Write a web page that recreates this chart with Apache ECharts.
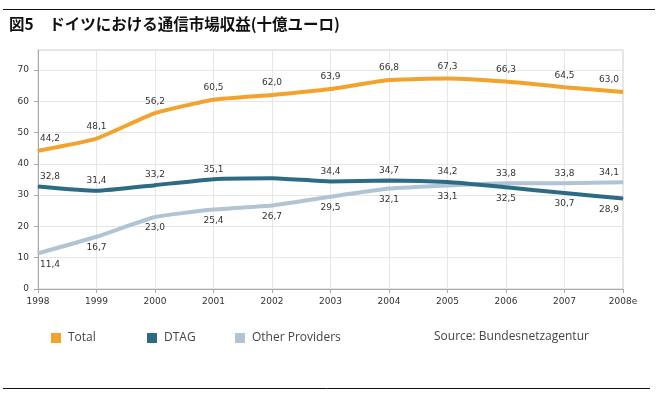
<!DOCTYPE html>
<html>
<head>
<meta charset="utf-8">
<script src="https://cdn.jsdelivr.net/npm/echarts@6/dist/echarts.min.js"></script>
<style>
  html, body { margin: 0; padding: 0; background: #fff; }
  #chart { width: 661px; height: 396px; }
</style>
</head>
<body>
<div id="chart"></div>
<script>
  // data
  var years = ['1998', '1999', '2000', '2001', '2002', '2003', '2004', '2005', '2006', '2007', '2008e']
  var total = [44.2, 48.1, 56.2, 60.5, 62.0, 63.9, 66.8, 67.3, 66.3, 64.5, 63.0]
  var dtag = [32.8, 31.4, 33.2, 35.1, 35.4, 34.4, 34.7, 34.2, 32.5, 30.7, 28.9]
  var others = [11.4, 16.7, 23.0, 25.4, 26.7, 29.5, 32.1, 33.1, 33.8, 33.8, 34.1]
  var yTicks = [0, 10, 20, 30, 40, 50, 60, 70]

  var fmt = function (v) { return v.toFixed(1).replace('.', ',') }
  var labelFont = { fontFamily: 'DejaVu Sans', fontSize: 9, color: '#333' }

  // label side per point: DTAG/others swap once the lines cross
  var dtagPos = ['top', 'top', 'top', 'top', null, 'top', 'top', 'top', 'bottom', 'bottom', 'bottom']
  var otherPos = ['bottom', 'bottom', 'bottom', 'bottom', 'bottom', 'bottom', 'bottom', 'bottom', 'top', 'top', 'top']

  function points(values, sides, dist) {
    return values.map(function (v, i) {
      var side = sides[i]
      var item = { value: v }
      if (!side) {
        item.label = { show: false }
        return item
      }
      var dx = i === 0 ? 12 : (i === values.length - 1 ? -14 : 0)
      item.label = { show: true, position: side, distance: dist[side], offset: [dx, 0] }
      return item
    })
  }

  function lineSeries(name, color, data) {
    return {
      name: name,
      type: 'line',
      smooth: 0.15,
      symbol: 'circle',
      symbolSize: 1,
      showSymbol: true,
      color: color,
      itemStyle: { color: color },
      lineStyle: { width: 4, color: color },
      label: Object.assign({ formatter: function (p) { return fmt(p.value) } }, labelFont),
      data: data
    }
  }

  var chart = echarts.init(document.getElementById('chart'))

  var legendBase = {
    top: 327,
    icon: 'rect',
    itemWidth: 10,
    itemHeight: 10,
    itemGap: 0,
    textStyle: { fontFamily: 'Open Sans', fontSize: 12, color: '#444', padding: [0, 0, 0, 2] }
  }

  chart.setOption({
    animation: false,
    title: {
      text: '図5　ドイツにおける通信市場収益(十億ユーロ)',
      left: 4,
      top: 11,
      textStyle: { fontFamily: 'Noto Sans CJK JP', fontSize: 15.5, fontWeight: 'bold', color: '#111' }
    },
    legend: [
      Object.assign({}, legendBase, { left: 46, data: ['Total'] }),
      Object.assign({}, legendBase, { left: 142, data: ['DTAG'] }),
      Object.assign({}, legendBase, { left: 230, data: ['Other Providers'] })
    ],
    grid: {
      left: 38,
      right: 38,
      top: 50,
      bottom: 107,
      show: true,
      borderColor: '#cfcfcf',
      borderWidth: 1
    },
    xAxis: {
      type: 'category',
      data: years,
      boundaryGap: false,
      axisLine: { lineStyle: { color: '#aaa' } },
      axisTick: { show: true, length: 4, lineStyle: { color: '#aaa' } },
      axisLabel: { fontFamily: 'DejaVu Sans', fontSize: 9, color: '#333', margin: 8 },
      splitLine: { show: true, lineStyle: { color: '#e6e6e6' } }
    },
    yAxis: {
      type: 'value',
      min: yTicks[0],
      max: 76.4,
      interval: 10,
      axisLine: { show: true, lineStyle: { color: '#aaa' } },
      axisTick: { show: true, length: 4, lineStyle: { color: '#aaa' } },
      axisLabel: {
        fontFamily: 'DejaVu Sans', fontSize: 9, color: '#333', margin: 9,
        showMaxLabel: false,
        formatter: function (v) { return yTicks.indexOf(v) >= 0 ? String(v) : '' }
      },
      splitLine: { lineStyle: { color: '#e6e6e6' } }
    },
    series: [
      lineSeries('Total', '#f2a32e', points(total, total.map(function () { return 'top' }), { top: 7 })),
      lineSeries('Other Providers', '#b0c4d3', points(others, otherPos, { top: 5, bottom: 6 })),
      lineSeries('DTAG', '#2d6a84', points(dtag, dtagPos, { top: 5, bottom: 6 }))
    ],
    graphic: [
      { type: 'line', shape: { x1: 3, y1: 9.5, x2: 655, y2: 9.5 }, style: { stroke: '#111', lineWidth: 1 } },
      { type: 'line', shape: { x1: 3, y1: 388.5, x2: 650, y2: 388.5 }, style: { stroke: '#111', lineWidth: 1 } },
      {
        type: 'text', left: 434, top: 331,
        style: { text: 'Source: Bundesnetzagentur', fontFamily: 'Open Sans', fontSize: 12, fill: '#444' }
      }
    ]
  })
</script>
</body>
</html>
